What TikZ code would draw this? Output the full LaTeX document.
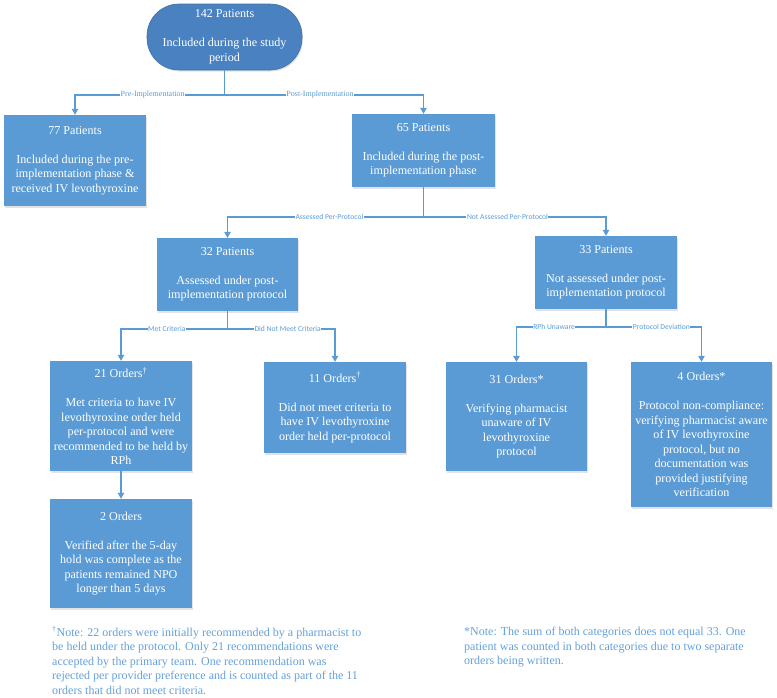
\documentclass[tikz,border=0pt]{standalone}
\usepackage{fontspec}
\setmainfont{Liberation Serif}
\newfontfamily\lblsans{Carlito}
\usetikzlibrary{arrows.meta,shadows}
\definecolor{boxblue}{RGB}{91,155,213}
\definecolor{topblue}{RGB}{74,130,193}
\definecolor{topedge}{RGB}{65,113,156}
\definecolor{notecol}{RGB}{100,160,218}
\begin{document}
\begin{tikzpicture}[x=1pt,y=-1pt,
  boxtext/.style={font=\fontsize{12.1}{14.5}\selectfont, text=white, align=center},
  bluebox/.style={boxtext, rectangle, fill=boxblue, inner sep=0pt,
    drop shadow={opacity=0.22, shadow xshift=1pt, shadow yshift=-1.5pt}},
  conn/.style={draw=boxblue, line width=1.1pt},
  arr/.style={conn, -{Triangle[width=6.5pt,length=6pt]}},
  lblserif/.style={fill=white, inner sep=0.6pt, text=boxblue, font=\fontsize{8}{9}\selectfont},
  lblsansstyle/.style={fill=white, inner sep=0.6pt, text=boxblue, font=\lblsans\fontsize{7.6}{9}\selectfont},
  note/.style={anchor=north west, inner sep=0pt, align=left, text=notecol, font=\fontsize{12}{14.6}\selectfont}
]
\useasboundingbox (0,0) rectangle (777,697);

% nodes
\node[bluebox, fill=topblue, draw=topedge, line width=0.6pt, rounded corners=32pt,
  minimum width=155pt, minimum height=66pt] (top) at (224.5,37)
  {142 Patients\\[14.5pt]Included during the study\\period};
\node[bluebox, minimum width=142pt, minimum height=91pt] (b77) at (75,160.5)
  {77 Patients\\[14.5pt]Included during the pre-\\implementation phase \&\\received IV levothyroxine};
\node[bluebox, minimum width=143pt, minimum height=73pt] (b65) at (423.5,150.5)
  {65 Patients\\[14.5pt]Included during the post-\\implementation phase};
\node[bluebox, minimum width=141pt, minimum height=73pt] (b32) at (227.5,274.5)
  {32 Patients\\[14.5pt]Assessed under post-\\implementation protocol};
\node[bluebox, minimum width=142pt, minimum height=73pt] (b33) at (606,272.5)
  {33 Patients\\[14.5pt]Not assessed under post-\\implementation protocol};
\node[bluebox, minimum width=142pt, minimum height=110pt] (b21) at (121,416)
  {21 Orders\textsuperscript{†}\\[14.5pt]Met criteria to have IV\\levothyroxine order held\\per-protocol and were\\recommended to be held by\\RPh};
\node[bluebox, minimum width=142pt, minimum height=91pt] (b11) at (335,407.5)
  {11 Orders\textsuperscript{†}\\[14.5pt]Did not meet criteria to\\have IV levothyroxine\\order held per-protocol};
\node[bluebox, minimum width=141pt, minimum height=109pt] (b31) at (516.5,416.5)
  {31 Orders*\\[14.5pt]Verifying pharmacist\\unaware of IV\\levothyroxine\\protocol};
\node[bluebox, minimum width=141pt, minimum height=145pt] (b4) at (701.5,434.5)
  {4 Orders*\\[14.5pt]Protocol non-compliance:\\verifying pharmacist aware\\of IV levothyroxine\\protocol, but no\\documentation was\\provided justifying\\verification};
\node[bluebox, minimum width=142pt, minimum height=109pt] (b2) at (121,553.5)
  {2 Orders\\[14.5pt]Verified after the 5-day\\hold was complete as the\\patients remained NPO\\longer than 5 days};

% junctions
\coordinate (j1) at (224.5,95);
\coordinate (j2) at (423.5,217);
\coordinate (j3) at (227.5,329);
\coordinate (j4) at (606,327);

% connectors
\draw[conn] (top.south) -- (j1);
\draw[arr] (j1) -| node[pos=0.24, lblserif] {Pre-Implementation} (b77.north);
\draw[arr] (j1) -| node[pos=0.24, lblserif] {Post-Implementation} (b65.north);

\draw[conn] (b65.south) -- (j2);
\draw[arr] (j2) -| node[pos=0.24, lblsansstyle] {Assessed Per-Protocol} (b32.north);
\draw[arr] (j2) -| node[pos=0.23, lblsansstyle] {Not Assessed Per-Protocol} (b33.north);

\draw[conn] (b32.south) -- (j3);
\draw[arr] (j3) -| node[pos=0.285, lblsansstyle] {Met Criteria} (b21.north);
\draw[arr] (j3) -| node[pos=0.28, lblsansstyle] {Did Not Meet Criteria} (b11.north);

\draw[conn] (b33.south) -- (j4);
\draw[arr] (j4) -| node[pos=0.29, lblsansstyle] {RPh Unaware} (b31.north);
\draw[arr] (j4) -| node[pos=0.29, lblsansstyle] {Protocol Deviation} (b4.north);

\draw[arr] (b21.south) -- (b2.north);

% notes
\node[note] (noteL) at (52,626)
  {\textsuperscript{†}Note: 22 orders were initially recommended by a pharmacist to\\
   be held under the protocol. Only 21 recommendations were\\
   accepted by the primary team. One recommendation was\\
   rejected per provider preference and is counted as part of the 11\\
   orders that did not meet criteria.};
\node[note] (noteR) at (464,627)
  {*Note: The sum of both categories does not equal 33. One\\
   patient was counted in both categories due to two separate\\
   orders being written.};
\end{tikzpicture}
\end{document}
